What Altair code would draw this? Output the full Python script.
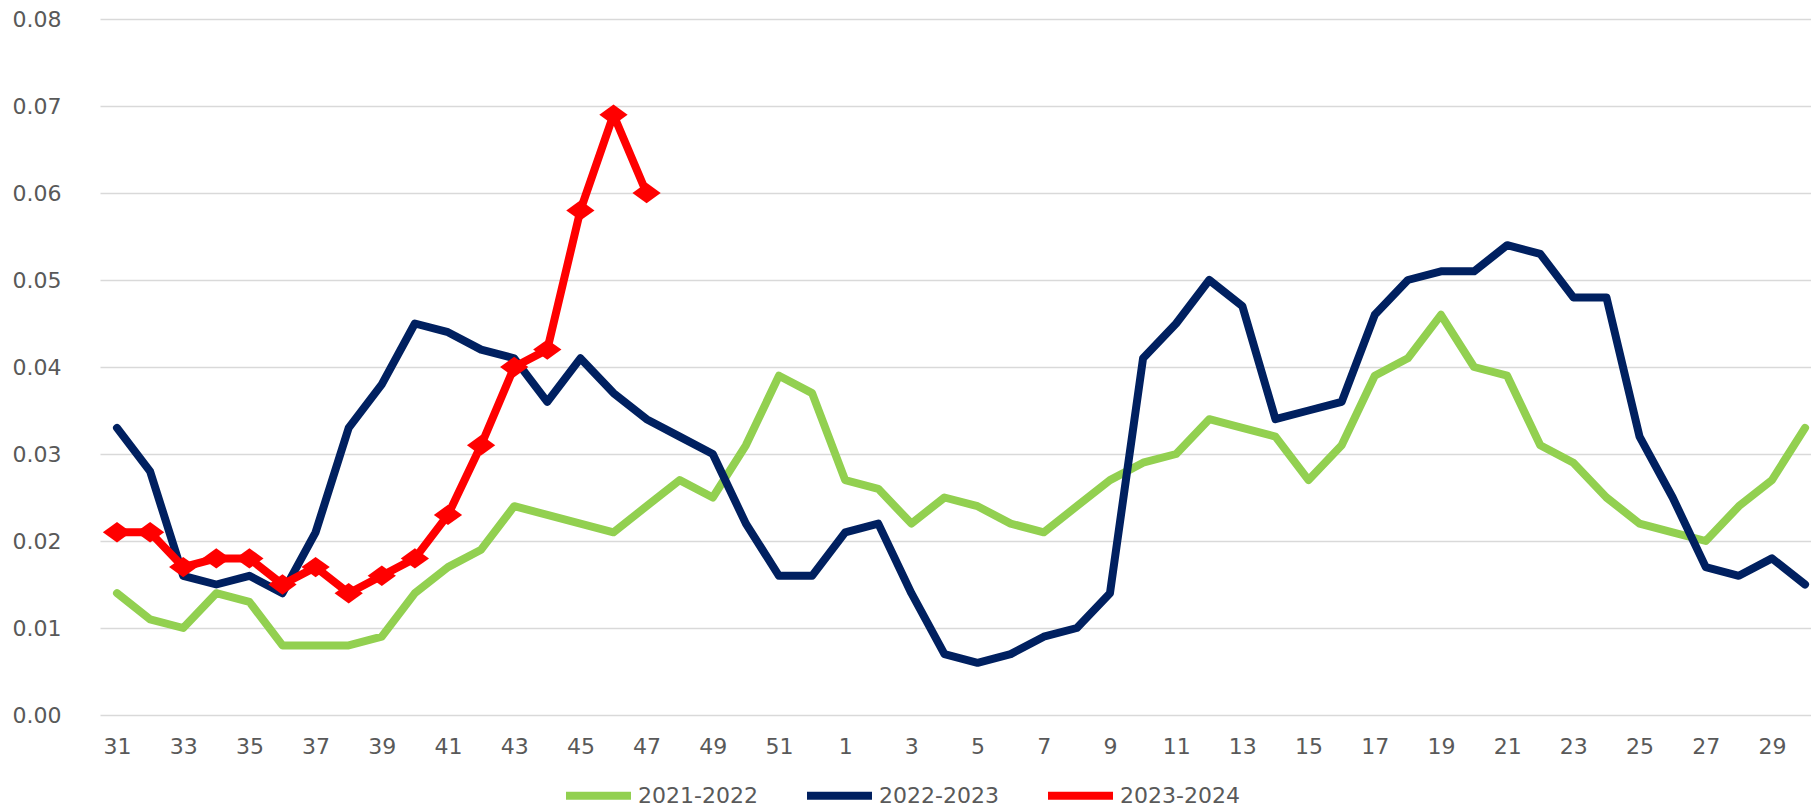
import json
import altair as alt
import pandas as pd

weeks = list(range(31, 53)) + list(range(1, 31))

s2021 = [0.014, 0.011, 0.010, 0.014, 0.013, 0.008, 0.008, 0.008, 0.009, 0.014,
         0.017, 0.019, 0.024, 0.023, 0.022, 0.021, 0.024, 0.027, 0.025, 0.031,
         0.039, 0.037, 0.027, 0.026, 0.022, 0.025, 0.024, 0.022, 0.021, 0.024,
         0.027, 0.029, 0.030, 0.034, 0.033, 0.032, 0.027, 0.031, 0.039, 0.041,
         0.046, 0.040, 0.039, 0.031, 0.029, 0.025, 0.022, 0.021, 0.020, 0.024,
         0.027, 0.033]

s2022 = [0.033, 0.028, 0.016, 0.015, 0.016, 0.014, 0.021, 0.033, 0.038, 0.045,
         0.044, 0.042, 0.041, 0.036, 0.041, 0.037, 0.034, 0.032, 0.030, 0.022,
         0.016, 0.016, 0.021, 0.022, 0.014, 0.007, 0.006, 0.007, 0.009, 0.010,
         0.014, 0.041, 0.045, 0.050, 0.047, 0.034, 0.035, 0.036, 0.046, 0.050,
         0.051, 0.051, 0.054, 0.053, 0.048, 0.048, 0.032, 0.025, 0.017, 0.016,
         0.018, 0.015]

s2023 = [0.021, 0.021, 0.017, 0.018, 0.018, 0.015, 0.017, 0.014, 0.016, 0.018,
         0.023, 0.031, 0.040, 0.042, 0.058, 0.069, 0.060]

series_names = ["2021-2022", "2022-2023", "2023-2024"]
series_colors = ["#92D050", "#002060", "#FF0000"]

rows = []
for name, vals in zip(series_names, [s2021, s2022, s2023]):
    for i, v in enumerate(vals):
        rows.append({"idx": i, "week": weeks[i], "value": v, "season": name})
df = pd.DataFrame(rows)

label_expr = json.dumps([str(w) for w in weeks]) + "[datum.value]"

x_enc = alt.X(
    "idx:Q",
    scale=alt.Scale(domain=[-0.5136, 51.18], nice=False, zero=False),
    axis=alt.Axis(
        values=list(range(0, 52, 2)),
        labelExpr=label_expr,
        title=None,
        grid=False,
        domain=False,
        ticks=False,
        labelPadding=31,
        labelBaseline="middle",
        labelFont="DejaVu Sans",
        labelFontSize=22,
        labelColor="#595959",
    ),
)
y_enc = alt.Y(
    "value:Q",
    scale=alt.Scale(domain=[0, 0.08], nice=False),
    axis=alt.Axis(
        values=[0, 0.01, 0.02, 0.03, 0.04, 0.05, 0.06, 0.07, 0.08],
        format=".2f",
        title=None,
        domain=False,
        ticks=False,
        grid=True,
        gridColor="#d9d9d9",
        gridWidth=1.5,
        labelAlign="left",
        labelPadding=88,
        labelFont="DejaVu Sans",
        labelFontSize=22,
        labelColor="#595959",
    ),
)

color_scale = alt.Scale(domain=series_names, range=series_colors)

lines = alt.Chart(df).mark_line(
    strokeWidth=8, strokeJoin="round", strokeCap="round"
).encode(
    x=x_enc,
    y=y_enc,
    color=alt.Color(
        "season:N",
        scale=color_scale,
        legend=alt.Legend(
            title=None,
            orient="none",
            direction="horizontal",
            legendX=478,
            legendY=756,
            symbolType="M-2,0H2",
            symbolStrokeWidth=8,
            symbolSize=1056,
            labelFont="DejaVu Sans",
            labelFontSize=22,
            labelColor="#595959",
            labelOffset=19,
            columnPadding=33,
            padding=0,
        ),
    ),
)

points = alt.Chart(df[df["season"] == "2023-2024"]).mark_point(
    shape="M-1,0L0,-0.72L1,0L0,0.72Z", filled=True, opacity=1, size=800
).encode(
    x=alt.X("idx:Q"),
    y=alt.Y("value:Q"),
    color=alt.Color("season:N", scale=color_scale, legend=None),
)

chart = alt.layer(lines, points).properties(
    width=1711,
    height=696,
    autosize=alt.AutoSizeParams(type="none"),
    padding={"left": 92, "top": 11, "right": 0, "bottom": 96},
).configure_view(stroke=None)

chart.save("out.html", embed_options={"renderer": "svg", "actions": False})
